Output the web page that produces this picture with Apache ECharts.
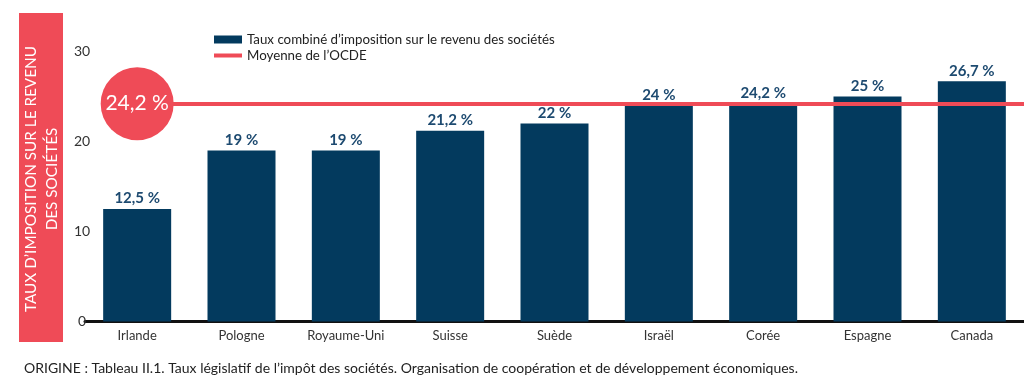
<!DOCTYPE html>
<html><head><meta charset="utf-8">
<script src="https://cdn.jsdelivr.net/npm/echarts@6/dist/echarts.min.js"></script>
<style>html,body{margin:0;padding:0;background:#fff}#c{width:1024px;height:386px}</style>
</head><body><div id="c"></div>
<script>
const categories = ['Irlande','Pologne','Royaume-Uni','Suisse','Suède','Israël','Corée','Espagne','Canada'];
const rates = [12.5, 19, 19, 21.2, 22, 24, 24.2, 25, 26.7];
const oecdAverage = 24.2;
const yTicks = [0, 10, 20, 30];
const barName = 'Taux combiné d’imposition sur le revenu des sociétés';
const avgName = 'Moyenne de l’OCDE';
const axisTitle = 'TAUX D’IMPOSITION SUR LE REVENU\nDES SOCIÉTÉS';
const source = 'ORIGINE : Tableau II.1. Taux législatif de l’impôt des sociétés. Organisation de coopération et de développement économiques.';

const RED = '#ef4b57', NAVY = '#033a5e', FONT = 'Lato';
const fmt = v => String(v).replace('.', ',') + ' %';

const chart = echarts.init(document.getElementById('c'), null, {renderer: 'canvas'});
chart.setOption({
  animation: false,
  textStyle: {fontFamily: FONT},
  grid: {left: 85, width: 950, top: 51.5, bottom: 64.5, containLabel: false},
  legend: {
    left: 212, top: 33, padding: 0, orient: 'vertical', itemWidth: 28, itemHeight: 8, itemGap: 3,
    textStyle: {fontSize: 13.3, color: '#222', fontFamily: FONT},
    data: [{name: barName, icon: 'rect'},
           {name: avgName, itemStyle: {opacity: 0}, lineStyle: {width: 4, color: RED}}]
  },
  xAxis: {
    type: 'category', data: categories,
    axisLine: {lineStyle: {color: '#111', width: 3}},
    axisTick: {show: false},
    axisLabel: {color: '#333', fontSize: 13, margin: 8, fontFamily: FONT}
  },
  yAxis: {
    type: 'value', min: yTicks[0], max: yTicks[yTicks.length - 1], interval: 10,
    splitLine: {show: false}, axisLine: {show: false}, axisTick: {show: false},
    axisLabel: {color: '#333', fontSize: 14, align: 'center', margin: 3, fontFamily: FONT}
  },
  series: [
    {
      name: barName, type: 'bar', data: rates, barWidth: 68, z: 2,
      itemStyle: {color: NAVY},
      label: {show: true, position: 'top', distance: 3, formatter: p => fmt(p.value),
        color: '#1d4a70', fontSize: 15, fontWeight: 'bold', fontFamily: FONT}
    },
    {
      name: avgName, type: 'line', data: [], symbol: 'none', z: 3,
      color: RED, lineStyle: {color: RED, width: 4},
      markLine: {
        silent: true, symbol: 'none', label: {show: false},
        lineStyle: {color: RED, width: 4, type: 'solid'},
        data: [[{xAxis: categories[0], yAxis: oecdAverage}, {x: '100%', yAxis: oecdAverage}]]
      }
    },
    {
      name: 'circle', type: 'scatter', z: 5, symbol: 'circle', symbolSize: 73,
      data: [[categories[0], oecdAverage]],
      itemStyle: {color: RED, opacity: 1},
      label: {show: true, position: 'inside', formatter: p => fmt(p.value[1]),
        color: '#fff', fontSize: 21, fontFamily: FONT}
    }
  ],
  graphic: [
    {type: 'rect', left: 19, top: 13, shape: {width: 44, height: 329}, style: {fill: RED}, z: 1},
    {type: 'text', x: 42, y: 179, rotation: Math.PI / 2, z: 2,
      style: {text: axisTitle, fill: '#fff', font: '15.3px Lato', align: 'center', verticalAlign: 'middle', lineHeight: 21}},
    {type: 'text', left: 24, top: 361, z: 2,
      style: {text: source, fill: '#222', font: '14px Lato'}}
  ]
});
</script></body></html>
